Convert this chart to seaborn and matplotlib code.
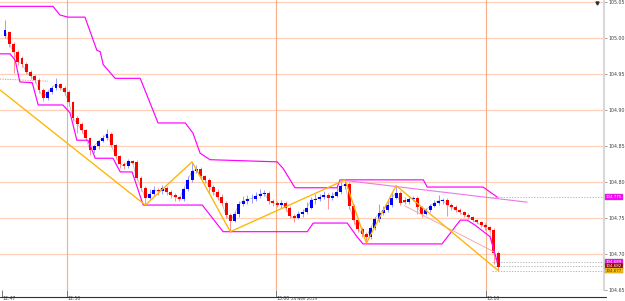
import numpy as np
import pandas as pd
import matplotlib
matplotlib.use("Agg")
import matplotlib.pyplot as plt
import seaborn as sns
from matplotlib.lines import Line2D

# candle data (price)
opens = [105.003, 105.008, 104.992, 104.981, 104.972, 104.964, 104.953, 104.947, 104.942, 104.928,
         104.917, 104.925, 104.931, 104.936, 104.931, 104.925, 104.911, 104.889, 104.881, 104.872,
         104.861, 104.844, 104.850, 104.857, 104.861, 104.867, 104.851, 104.836, 104.825, 104.822,
         104.829, 104.828, 104.806, 104.792, 104.778, 104.783, 104.789, 104.787, 104.792, 104.786,
         104.782, 104.779, 104.776, 104.790, 104.803, 104.815, 104.818, 104.808, 104.803, 104.793,
         104.786, 104.779, 104.771, 104.754, 104.746, 104.756, 104.769, 104.774, 104.776, 104.777,
         104.781, 104.783, 104.785, 104.774, 104.771, 104.768, 104.771, 104.764, 104.753, 104.750,
         104.756, 104.758, 104.764, 104.775, 104.776, 104.779, 104.782, 104.778, 104.781, 104.786,
         104.794, 104.797, 104.767, 104.747, 104.735, 104.728, 104.724, 104.736, 104.749, 104.757,
         104.761, 104.768, 104.778, 104.785, 104.775, 104.772, 104.776, 104.778, 104.765, 104.756,
         104.761, 104.767, 104.771, 104.774, 104.775, 104.768, 104.765, 104.761, 104.758, 104.754,
         104.751, 104.747, 104.744, 104.740, 104.737, 104.733, 104.701]
closes = [105.011, 104.992, 104.981, 104.967, 104.964, 104.953, 104.947, 104.942, 104.928, 104.917,
          104.925, 104.931, 104.936, 104.931, 104.925, 104.911, 104.889, 104.881, 104.872, 104.861,
          104.844, 104.850, 104.857, 104.861, 104.867, 104.851, 104.836, 104.825, 104.822, 104.829,
          104.826, 104.806, 104.792, 104.778, 104.783, 104.789, 104.787, 104.792, 104.786, 104.782,
          104.779, 104.776, 104.790, 104.803, 104.815, 104.818, 104.808, 104.803, 104.793, 104.786,
          104.779, 104.771, 104.754, 104.746, 104.756, 104.769, 104.774, 104.776, 104.777, 104.781,
          104.783, 104.785, 104.774, 104.771, 104.768, 104.771, 104.764, 104.753, 104.750, 104.756,
          104.758, 104.764, 104.775, 104.776, 104.779, 104.782, 104.778, 104.781, 104.786, 104.794,
          104.797, 104.767, 104.747, 104.735, 104.728, 104.724, 104.736, 104.749, 104.757, 104.761,
          104.768, 104.778, 104.785, 104.771, 104.772, 104.776, 104.778, 104.765, 104.756, 104.761,
          104.767, 104.771, 104.774, 104.775, 104.768, 104.765, 104.761, 104.758, 104.754, 104.751,
          104.747, 104.744, 104.740, 104.737, 104.733, 104.701, 104.682]
highs = [105.025, 105.010, 104.994, 104.983, 104.975, 104.966, 104.955, 104.949, 104.944, 104.930,
         104.928, 104.934, 104.944, 104.938, 104.933, 104.928, 104.913, 104.891, 104.884, 104.874,
         104.863, 104.852, 104.859, 104.865, 104.874, 104.869, 104.853, 104.838, 104.828, 104.832,
         104.831, 104.830, 104.808, 104.794, 104.790, 104.795, 104.792, 104.796, 104.794, 104.789,
         104.785, 104.781, 104.793, 104.808, 104.828, 104.823, 104.821, 104.810, 104.806, 104.796,
         104.790, 104.783, 104.774, 104.757, 104.760, 104.773, 104.780, 104.782, 104.784, 104.786,
         104.790, 104.789, 104.788, 104.777, 104.774, 104.775, 104.773, 104.766, 104.756, 104.760,
         104.763, 104.772, 104.779, 104.783, 104.784, 104.787, 104.785, 104.786, 104.793, 104.800,
         104.803, 104.800, 104.770, 104.750, 104.738, 104.731, 104.739, 104.752, 104.770, 104.766,
         104.773, 104.785, 104.795, 104.788, 104.779, 104.780, 104.781, 104.780, 104.767, 104.764,
         104.770, 104.775, 104.782, 104.778, 104.778, 104.771, 104.768, 104.764, 104.760, 104.757,
         104.753, 104.749, 104.746, 104.743, 104.739, 104.736, 104.704]
lows = [105.000, 104.988, 104.952, 104.963, 104.960, 104.950, 104.943, 104.938, 104.924, 104.913,
        104.914, 104.922, 104.928, 104.928, 104.921, 104.905, 104.885, 104.868, 104.868, 104.858,
        104.838, 104.840, 104.846, 104.855, 104.859, 104.848, 104.832, 104.820, 104.818, 104.820,
        104.825, 104.803, 104.788, 104.768, 104.776, 104.780, 104.782, 104.784, 104.782, 104.778,
        104.774, 104.773, 104.774, 104.788, 104.800, 104.812, 104.805, 104.798, 104.785, 104.782,
        104.775, 104.767, 104.750, 104.731, 104.744, 104.752, 104.766, 104.770, 104.771, 104.773,
        104.778, 104.780, 104.770, 104.766, 104.765, 104.764, 104.760, 104.750, 104.745, 104.748,
        104.752, 104.755, 104.762, 104.770, 104.774, 104.776, 104.762, 104.775, 104.779, 104.784,
        104.790, 104.762, 104.742, 104.731, 104.724, 104.715, 104.721, 104.733, 104.745, 104.754,
        104.758, 104.765, 104.776, 104.768, 104.769, 104.770, 104.773, 104.755, 104.752, 104.754,
        104.759, 104.765, 104.768, 104.770, 104.753, 104.761, 104.758, 104.755, 104.751, 104.748,
        104.744, 104.741, 104.737, 104.734, 104.730, 104.686, 104.677]

# channel lines (candle index, price)
upper_x = [-1.2, 11.3, 12.9, 14.8, 18.8, 21.6, 22.4, 23.1, 25.9, 31.8, 36.0, 42.4, 44.2, 45.9,
           48.2, 64.0, 65.4, 68.2, 78.1, 78.8, 98.4, 99.3, 112.5, 114.1, 115.8]
upper_y = [105.044, 105.044, 105.032, 105.029, 105.029, 104.983, 104.981, 104.963, 104.944,
           104.944, 104.882, 104.882, 104.868, 104.840, 104.831, 104.828, 104.819, 104.792,
           104.792, 104.803, 104.803, 104.793, 104.793, 104.786, 104.779]
lower_x = [-1.2, 1.2, 2.4, 3.5, 6.4, 7.8, 13.6, 15.3, 16.9, 19.5, 20.5, 21.2, 25.4, 27.1, 29.9,
           32.5, 46.4, 51.3, 71.1, 72.5, 80.5, 82.8, 84.2, 102.8, 107.1, 108.7, 110.6, 114.1, 115.8]
lower_y = [104.978, 104.978, 104.969, 104.939, 104.938, 104.907, 104.907, 104.896, 104.858,
           104.858, 104.844, 104.833, 104.833, 104.814, 104.814, 104.768, 104.768, 104.731,
           104.731, 104.743, 104.743, 104.724, 104.714, 104.714, 104.747, 104.747, 104.740,
           104.724, 104.689]

# zigzag
zig_x = [-1.2, 33, 44, 53, 80, 85, 92, 116]
zig_y = [104.928, 104.768, 104.828, 104.731, 104.803, 104.715, 104.795, 104.677]

trend_x = [78.8, 122.8]
trend_y = [104.803, 104.772]
pale_x = [94, 115]
pale_y = [104.767, 104.703]
dot_x = [-1.2, 10.1]
dot_y = [104.943, 104.940]

price_ticks = [104.65, 104.70, 104.75, 104.80, 104.85, 104.90, 104.95, 105.00, 105.05]
time_pos = [-0.7, 14.6, 63.8, 113.2]
time_labels = ["12:47", "12:50", "13:00", "13:10"]
date_label = "24 Nov 2019"

tags = [(104.779, "104.775", "#ff00ff", "white"),
        (104.689, "104.689", "#ff00ff", "white"),
        (104.683, "104.682", "#a00000", "white"),
        (104.677, "104.677", "#ffc000", "#503000")]

sns.set_theme(style="white")
plt.rcParams['font.family'] = ['DejaVu Sans']

fig = plt.figure(figsize=(6.25, 3.01), dpi=100)
ax = fig.add_axes([0, 11 / 301, 604 / 625, 290 / 301])
ax.set_xlim(-1.18, 140.9)
ax.set_ylim(104.6500, 105.0528)

# grid
for p in price_ticks:
    ax.axhline(p, color="#ffcfb8", lw=0.9, zorder=0)
for t in time_pos[1:]:
    ax.axvline(t, color="#f7ad86", lw=0.8, zorder=0)

df = pd.DataFrame({"i": np.arange(len(closes)), "open": opens, "close": closes,
                   "high": highs, "low": lows})
bull = df["close"] >= df["open"]

# close line
sns.lineplot(x="i", y="close", data=df, ax=ax, color="#b0b0b0", lw=0.45, zorder=2)

ax.vlines(df["i"][bull], df["low"][bull], df["high"][bull], color="#8c8cff", lw=0.6, zorder=3)
ax.vlines(df["i"][~bull], df["low"][~bull], df["high"][~bull], color="#ff8080", lw=0.6, zorder=3)
body_lo = np.minimum(df["open"], df["close"])
body_h = np.maximum(np.abs(df["close"] - df["open"]), 0.0008)
ax.bar(df["i"][bull], body_h[bull], bottom=body_lo[bull], width=0.68, color="#0000ff",
       linewidth=0, zorder=4)
ax.bar(df["i"][~bull], body_h[~bull], bottom=body_lo[~bull], width=0.68, color="#ff0000",
       linewidth=0, zorder=4)

# channel lines
sns.lineplot(x=upper_x, y=upper_y, ax=ax, color="#ff00ff", lw=0.85, estimator=None, sort=False, zorder=5)
sns.lineplot(x=lower_x, y=lower_y, ax=ax, color="#ff00ff", lw=0.85, estimator=None, sort=False, zorder=5)
sns.lineplot(x=trend_x, y=trend_y, ax=ax, color="#ea78ea", lw=0.8, estimator=None, zorder=5)
sns.lineplot(x=pale_x, y=pale_y, ax=ax, color="#f4aaaa", lw=0.7, estimator=None, zorder=5)
ax.plot(dot_x, dot_y, color="#e08080", lw=0.6, ls=(0, (1.5, 1.5)), zorder=5)
sns.lineplot(x=zig_x, y=zig_y, ax=ax, color="#ffb400", lw=0.95, estimator=None, sort=False, zorder=6)

# right-side price tags
for val, txt, bg, fg in tags:
    ax.plot([114.5, 140.9], [val, val], color="#a0a0a0", lw=0.5, ls=(0, (2, 2)), zorder=1)
    ax.text(141.35, val, txt, fontsize=2.9, color=fg, va="center", ha="left", clip_on=False,
            bbox=dict(boxstyle="square,pad=0.2", fc=bg, ec="#808080", lw=0.3))
ax.plot([139.3], [105.049], marker="v", color="#303030", ms=2.2, zorder=7)

# axes styling
ax.yaxis.tick_right()
ax.set_yticks(price_ticks)
ax.set_yticklabels([f"{p:.2f}" for p in price_ticks], fontsize=3.4, color="#404040")
ax.tick_params(axis="y", length=2, width=0.5, color="#808080", pad=1.5, right=True)
ax.set_xticks(time_pos)
ax.set_xticklabels(time_labels, fontsize=3.3, color="#404040")
ax.tick_params(axis="x", length=5, width=0.5, color="#404040", pad=-0.5, bottom=True)
for lbl in ax.get_xticklabels():
    lbl.set_horizontalalignment("left")
for s in ["top", "left", "bottom"]:
    ax.spines[s].set_visible(False)
ax.spines["right"].set_color("#d8d8d8")
ax.spines["right"].set_linewidth(1.5)
ax.set_xlabel("")
ax.set_ylabel("")

fig.add_artist(Line2D([0, 606 / 625], [4.5 / 301, 4.5 / 301], color="#303030", lw=0.8))
fig.text(291 / 625, 0.0, date_label, fontsize=3.0, color="#404040", ha="left", va="bottom")

fig.savefig("out.png", dpi=100, facecolor="white")
